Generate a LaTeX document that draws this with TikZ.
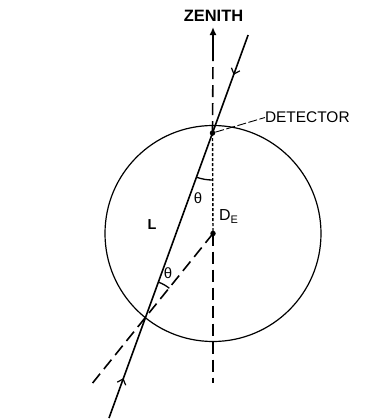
\documentclass[tikz,border=0pt]{standalone}
\usepackage{fontspec}
\setmainfont{Liberation Sans}
\usetikzlibrary{arrows.meta,decorations.markings}
\begin{document}
\begin{tikzpicture}[x=1bp,y=-1bp,
  lbl/.style={inner sep=0pt,outer sep=0pt,text=black},
  mainline/.style={line width=1.6bp,black},
  longdash/.style={line width=1.6bp,dash pattern=on 12bp off 6bp},
  finedash/.style={line width=1.4bp,dash pattern=on 3bp off 2bp},
  leader/.style={line width=0.9bp,dash pattern=on 9bp off 2.5bp},
  anglearc/.style={line width=1.3bp},
  dotmark/.style={circle,fill=black,inner sep=0pt,minimum size=5.5bp}]
\useasboundingbox (0,0) rectangle (365,419);
% key points
\coordinate (C) at (213,233.5);
\coordinate (D) at (212.5,133);
\coordinate (top) at (213,27);
\coordinate (vbot) at (213,383);
\coordinate (rayTop) at (248.1,35);
\coordinate (rayBot) at (109,418);
\coordinate (P2) at (145.4,317.8);
\coordinate (dashEnd) at (89,387.5);
% earth
\draw[line width=1.2bp] (C) circle[radius=108];
% zenith axis
\draw[longdash] (C) -- (vbot);
\draw[finedash] (D) -- (C);
\draw[longdash] (D) -- ([yshift=-33bp]top);
\draw[line width=1.6bp,-{Latex[length=8bp,width=7bp]}] ([yshift=-33bp]top) -- (top);
% ray through the earth
\draw[mainline,postaction={decorate},decoration={markings,
  mark=at position 0.104 with {\arrow{Straight Barb[length=5bp,width=9bp,line width=1.2bp]}},
  mark=at position 0.896 with {\arrowreversed{Straight Barb[length=5bp,width=9bp,line width=1.2bp]}}}]
  (rayTop) -- (rayBot);
% radius to exit point
\draw[longdash] (C) -- (dashEnd);
% angle arcs
\draw[anglearc] ([shift={(90:47)}]D) arc[start angle=90,end angle=110,radius=47];
\draw[anglearc] ([shift={(290:38)}]P2) arc[start angle=290,end angle=309,radius=38];
% dots
\node[dotmark] (det) at (D) {};
\node[dotmark] (de) at (C) {};
% labels
\node[lbl,font=\fontsize{16.5}{18}\selectfont\bfseries] (zen) at (213.5,16) {ZENITH};
\node[lbl,font=\fontsize{15.5}{17}\selectfont,anchor=west] (dtxt) at (265,117.5) {DETECTOR};
\draw[leader] (det) -- (dtxt.west);
\node[lbl,font=\fontsize{14.5}{16}\selectfont\bfseries] (L) at (152,225) {L};
\node[lbl,font=\fontsize{15}{17}\selectfont] (th1) at (198,198) {θ};
\node[lbl,font=\fontsize{15}{17}\selectfont] (th2) at (168,273) {θ};
\node[lbl,font=\fontsize{16}{18}\selectfont,anchor=base west] (dlab) at (219,220) {D\raisebox{-0.45ex}{\fontsize{11}{12}\selectfont E}};
\end{tikzpicture}
\end{document}
